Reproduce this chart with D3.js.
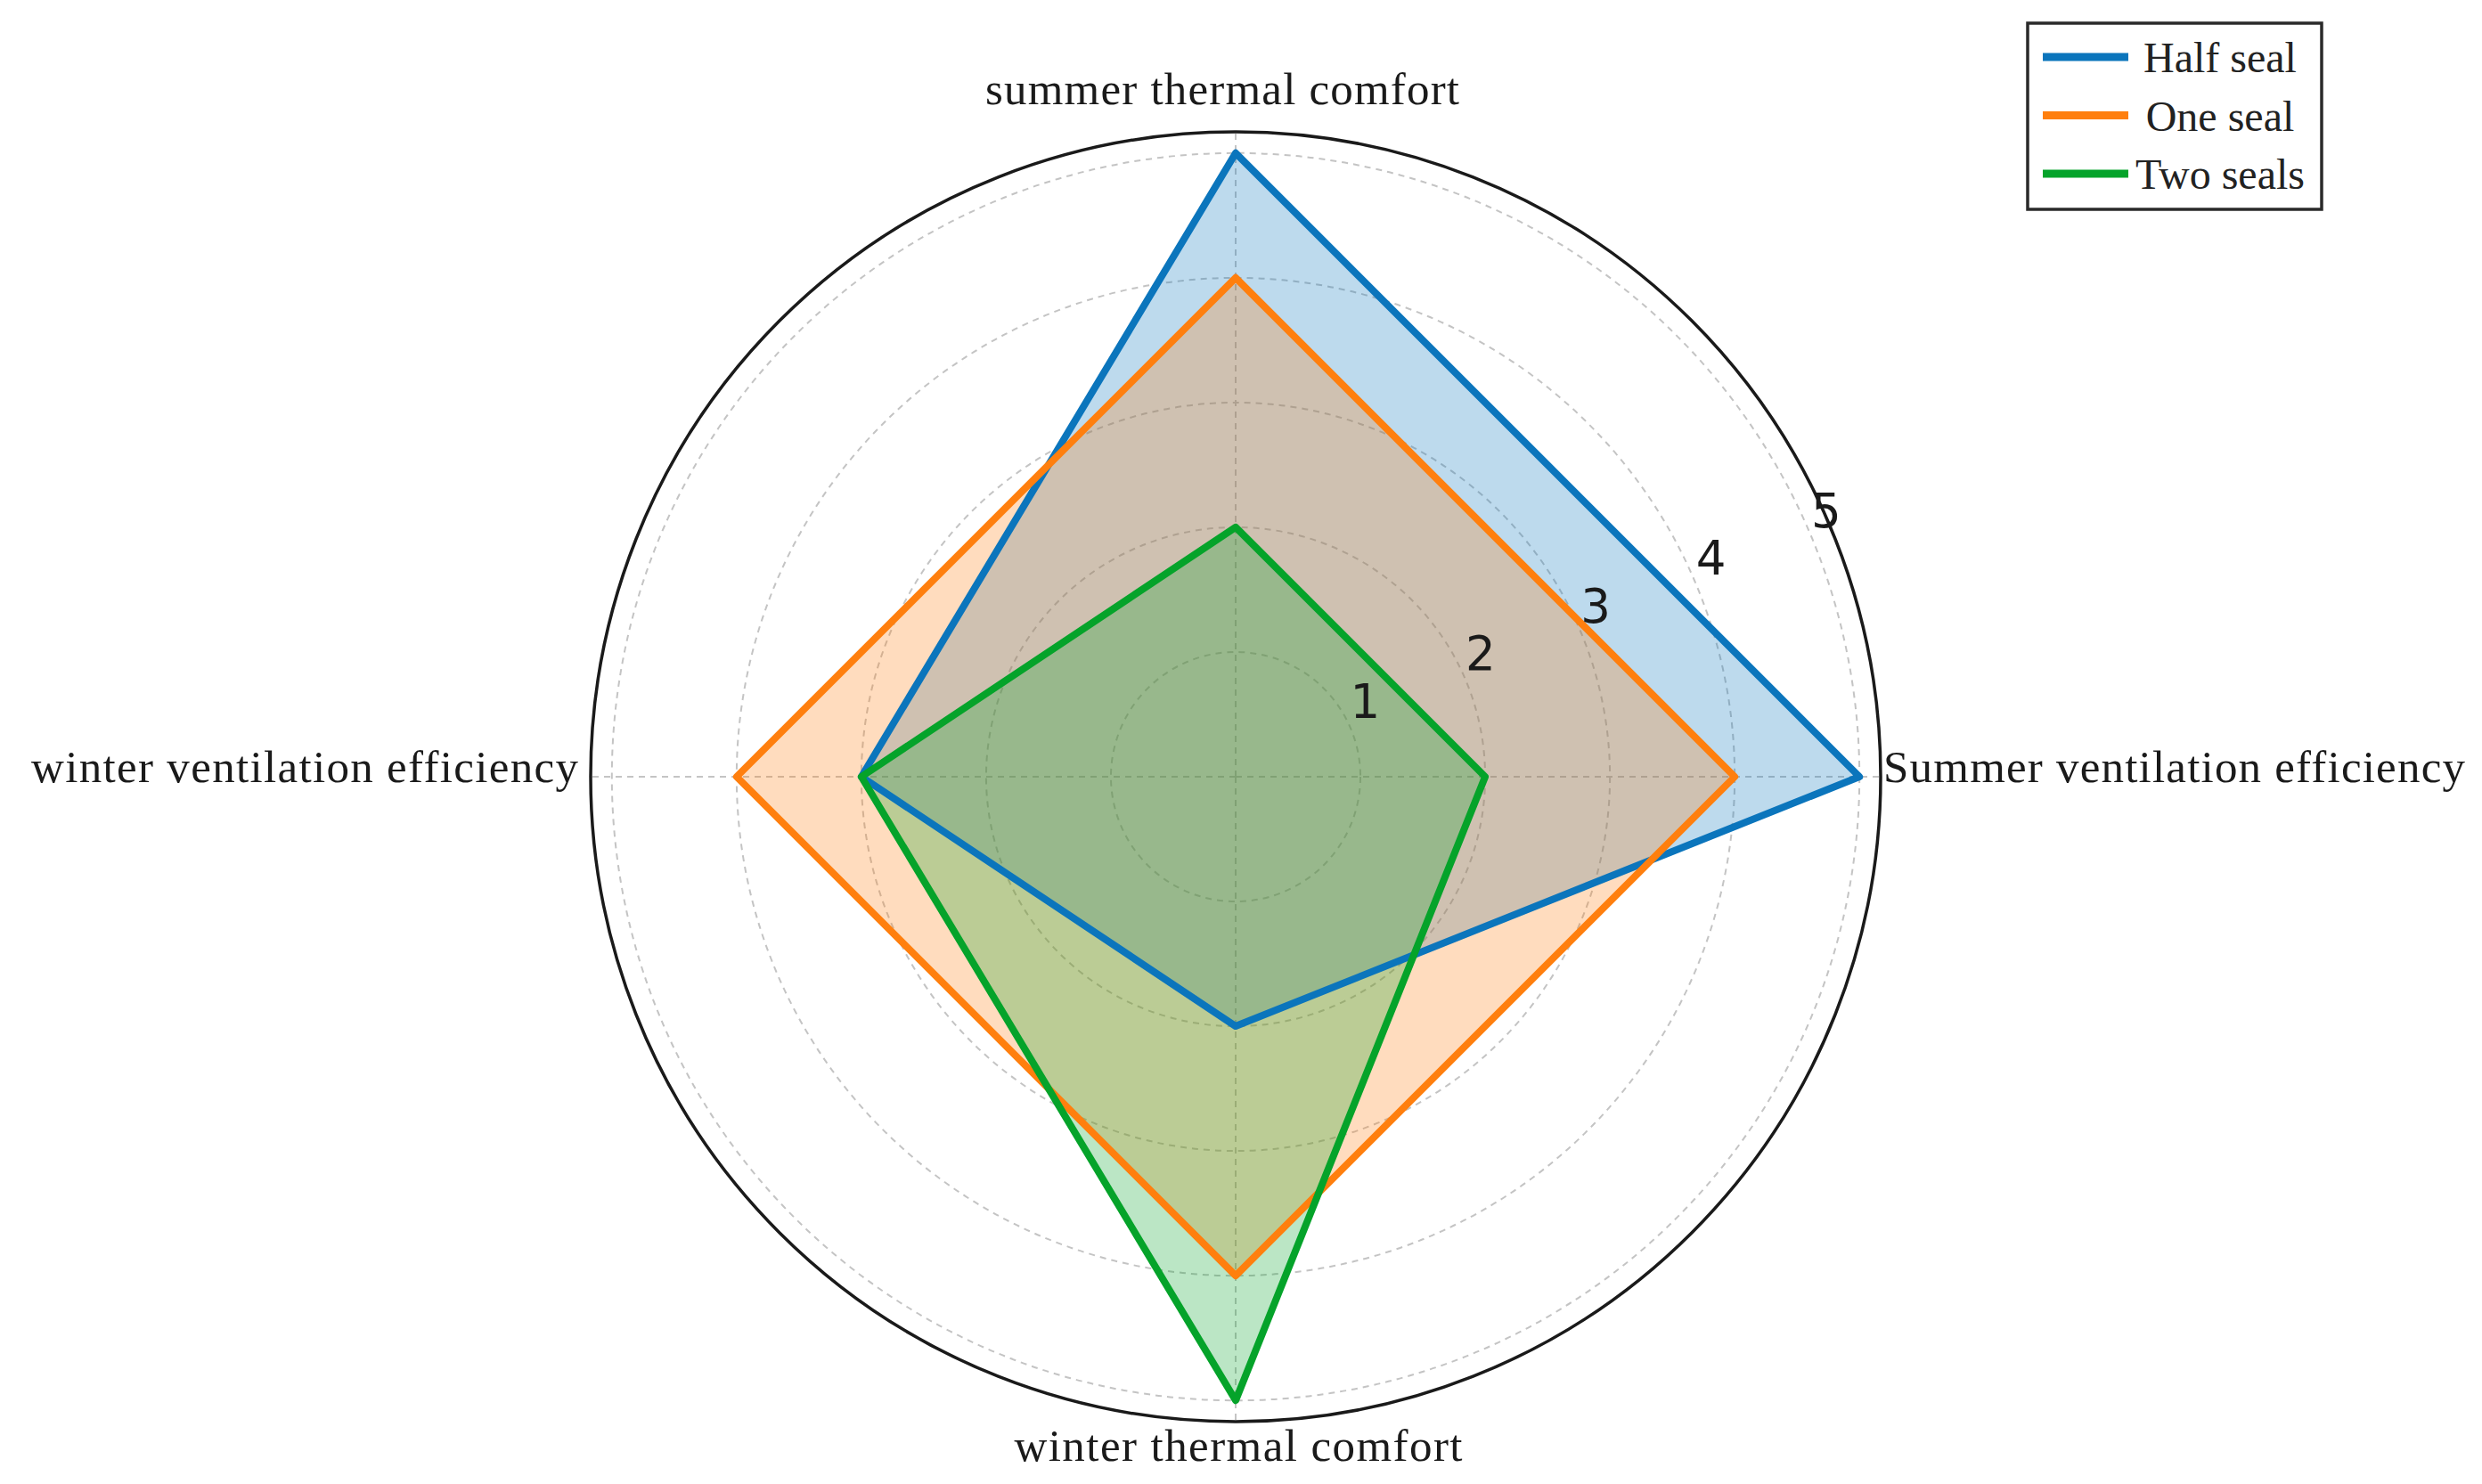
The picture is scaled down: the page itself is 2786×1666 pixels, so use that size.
<!DOCTYPE html>
<html>
<head>
<meta charset="utf-8">
<script src="https://cdn.jsdelivr.net/npm/d3@7"></script>
<style>
  html, body { margin: 0; padding: 0; background: #fff; }
  svg { display: block; }
</style>
</head>
<body>
<svg id="chart" width="2786" height="1666"></svg>
<script>
// ---- data ----
const categories = ["Summer ventilation efficiency", "summer thermal comfort", "winter ventilation efficiency", "winter thermal comfort"];
const seriesNames = ["Half seal", "One seal", "Two seals"];
const halfSeal = [5, 5, 3, 2];
const oneSeal = [4, 4, 4, 4];
const twoSeals = [2, 2, 3, 5];
const rTicks = [1, 2, 3, 4, 5];
const seriesColors = ["#0b75bc", "#ff7f0e", "#05a32a"];

const seriesValues = [halfSeal, oneSeal, twoSeals];

// ---- layout ----
const cx = 1387, cy = 872;
const rOuter = 724;
const rMaxVal = 5.17;

const svg = d3.select("#chart");
const g = svg.append("g").attr("transform", `translate(${cx},${cy})`);

const r = d3.scaleLinear().domain([0, rMaxVal]).range([0, rOuter]);
const ang = d3.scaleLinear().domain([0, categories.length]).range([0, 2 * Math.PI]);
const toRadial = a => Math.PI / 2 - a;

// grid rings
g.selectAll("circle.grid").data(rTicks).join("circle")
  .attr("class", "grid")
  .attr("r", d => r(d))
  .attr("fill", "none")
  .attr("stroke", "#c4c4c4")
  .attr("stroke-width", 2)
  .attr("stroke-dasharray", "7,6");

// angular grid lines
g.selectAll("line.spoke").data(categories).join("line")
  .attr("class", "spoke")
  .attr("x1", 0).attr("y1", 0)
  .attr("x2", (d, i) => rOuter * Math.cos(ang(i)))
  .attr("y2", (d, i) => -rOuter * Math.sin(ang(i)))
  .attr("stroke", "#c4c4c4")
  .attr("stroke-width", 2)
  .attr("stroke-dasharray", "7,6");

// series
const radialLine = d3.lineRadial()
  .angle((d, i) => toRadial(ang(i)))
  .radius(d => r(d))
  .curve(d3.curveLinearClosed);

g.selectAll("path.fill").data(seriesValues).join("path")
  .attr("class", "fill")
  .attr("d", d => radialLine(d))
  .attr("fill", (d, i) => seriesColors[i])
  .attr("fill-opacity", 0.27)
  .attr("stroke", "none");

g.selectAll("path.line").data(seriesValues).join("path")
  .attr("class", "line")
  .attr("d", d => radialLine(d))
  .attr("fill", "none")
  .attr("stroke", (d, i) => seriesColors[i])
  .attr("stroke-width", 8)
  .attr("stroke-linejoin", "round");

// outer circle
g.append("circle")
  .attr("r", rOuter)
  .attr("fill", "none")
  .attr("stroke", "#1a1a1a")
  .attr("stroke-width", 3.5);

// radial tick labels at 22.5 degrees
const labAng = Math.PI / 8;
g.selectAll("text.rtick").data(rTicks).join("text")
  .attr("class", "rtick")
  .attr("x", d => r(d) * Math.cos(labAng) + 16)
  .attr("y", d => -r(d) * Math.sin(labAng) - 31)
  .attr("text-anchor", "middle")
  .attr("dominant-baseline", "central")
  .attr("font-family", "DejaVu Sans")
  .attr("font-size", 53)
  .attr("fill", "#1a1a1a")
  .text(d => d);

// category labels
const catLabelPos = [
  { x: 2114, y: 878, anchor: "start", len: 653 },
  { x: 1372, y: 117, anchor: "middle", len: 532 },
  { x: 35, y: 878, anchor: "start", len: 614 },
  { x: 1390, y: 1640, anchor: "middle", len: 503 }
];
svg.selectAll("text.cat").data(categories).join("text")
  .attr("class", "cat")
  .attr("x", (d, i) => catLabelPos[i].x)
  .attr("y", (d, i) => catLabelPos[i].y)
  .attr("text-anchor", (d, i) => catLabelPos[i].anchor)
  .attr("font-family", "Liberation Serif")
  .attr("font-size", 51)
  .attr("fill", "#1a1a1a")
  .attr("textLength", (d, i) => catLabelPos[i].len)
  .attr("lengthAdjust", "spacing")
  .text(d => d);

// legend
const leg = svg.append("g");
leg.append("rect")
  .attr("x", 2276).attr("y", 26).attr("width", 330).attr("height", 209)
  .attr("fill", "#fff").attr("stroke", "#2a2a2a").attr("stroke-width", 3.5);
const legY = d3.scalePoint().domain(seriesNames).range([64, 195]);
leg.selectAll("line").data(seriesNames).join("line")
  .attr("x1", 2293).attr("x2", 2389)
  .attr("y1", d => legY(d)).attr("y2", d => legY(d))
  .attr("stroke", (d, i) => seriesColors[i])
  .attr("stroke-width", 9);
leg.selectAll("text").data(seriesNames).join("text")
  .attr("x", 2492)
  .attr("y", d => legY(d) + 17)
  .attr("text-anchor", "middle")
  .attr("font-family", "Liberation Serif")
  .attr("font-size", 48)
  .attr("fill", "#222")
  .text(d => d);
</script>
</body>
</html>
